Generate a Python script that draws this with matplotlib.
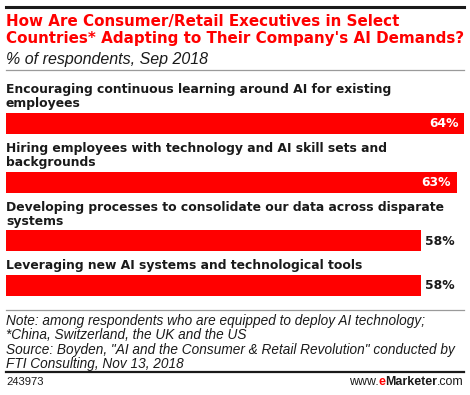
import matplotlib
matplotlib.use("Agg")
import matplotlib.pyplot as plt

categories = [
    "Encouraging continuous learning around AI for existing\nemployees",
    "Hiring employees with technology and AI skill sets and\nbackgrounds",
    "Developing processes to consolidate our data across disparate\nsystems",
    "Leveraging new AI systems and technological tools",
]
values = [64, 63, 58, 58]

title_lines = ["How Are Consumer/Retail Executives in Select",
               "Countries* Adapting to Their Company's AI Demands?"]
subtitle = "% of respondents, Sep 2018"
note_lines = ["Note: among respondents who are equipped to deploy AI technology;",
              "*China, Switzerland, the UK and the US",
              "Source: Boyden, \"AI and the Consumer & Retail Revolution\" conducted by",
              "FTI Consulting, Nov 13, 2018"]
chart_id = "243973"

W, H = 470, 395
RED = "#ff0000"
DARK = "#1a1a1a"
BOLD = ['DejaVu Sans']
PLAIN = ['Liberation Sans', 'DejaVu Sans']
plt.rcParams['font.family'] = PLAIN

fig = plt.figure(figsize=(W / 100, H / 100), dpi=100)
fig.patch.set_facecolor("white")

# axes spans bar width horizontally, full figure height in pixel units vertically
ax = fig.add_axes([6 / W, 0, 458 / W, 1])
ax.set_xlim(0, max(values))
ax.set_ylim(H, 0)
ax.axis("off")

def fy(y):
    return 1 - y / H

def hline(y, color, lw):
    fig.add_artist(plt.Line2D([6 / W, 464 / W], [fy(y), fy(y)], color=color, lw=lw))

# header
hline(6.5, DARK, 2.2)
for i, ln in enumerate(title_lines):
    fig.text(6 / W, fy(26 + i * 17.5), ln, color=RED, fontsize=10.9, fontweight="bold",
             family=BOLD, va="baseline", ha="left")
fig.text(6 / W, fy(64), subtitle, color=DARK, fontsize=11.5, style="italic",
         va="baseline", ha="left")
hline(69.8, "#9a9a9a", 0.9)

# bars
line_h = 14
bar_h = 21
base = 93.3
for cat, v in zip(categories, values):
    lines = cat.split("\n")
    for i, ln in enumerate(lines):
        ax.text(0, base + i * line_h, ln, fontsize=8.9, fontweight="bold", family=BOLD,
                color=DARK, va="baseline", ha="left")
    top = base + (len(lines) - 1) * line_h + 5.5
    ax.barh(top + bar_h / 2, v, height=bar_h, color=RED, left=0)
    if v >= 60:
        ax.text(v - 0.8, top + 14.5, f"{v}%", color="white", fontsize=8.9,
                fontweight="bold", family=BOLD, va="baseline", ha="right")
    else:
        ax.text(v + 0.55, top + 14.5, f"{v}%", color=DARK, fontsize=8.9,
                fontweight="bold", family=BOLD, va="baseline", ha="left")
    base = top + bar_h + 18.2

# footer
hline(310, "#9a9a9a", 0.9)
for i, ln in enumerate(note_lines):
    fig.text(6 / W, fy(325 + i * 14.3), ln, color=DARK, fontsize=9.85, style="italic",
             va="baseline", ha="left")
hline(371.7, DARK, 1.6)
fig.text(6 / W, fy(385), chart_id, color=DARK, fontsize=8.1, va="baseline", ha="left")

# www.eMarketer.com drawn right to left
renderer = fig.canvas.get_renderer()
parts = [(".com", DARK, "normal"), ("Marketer", DARK, "bold"),
         ("e", RED, "bold"), ("www.", DARK, "normal")]
x = 464
for txt, col, wt in parts:
    t = fig.text(x / W, fy(385), txt, color=col, fontsize=8.9, fontweight=wt,
                 va="baseline", ha="right")
    bb = t.get_window_extent(renderer=renderer)
    x -= bb.width

fig.savefig("out.png", dpi=100, facecolor="white")
